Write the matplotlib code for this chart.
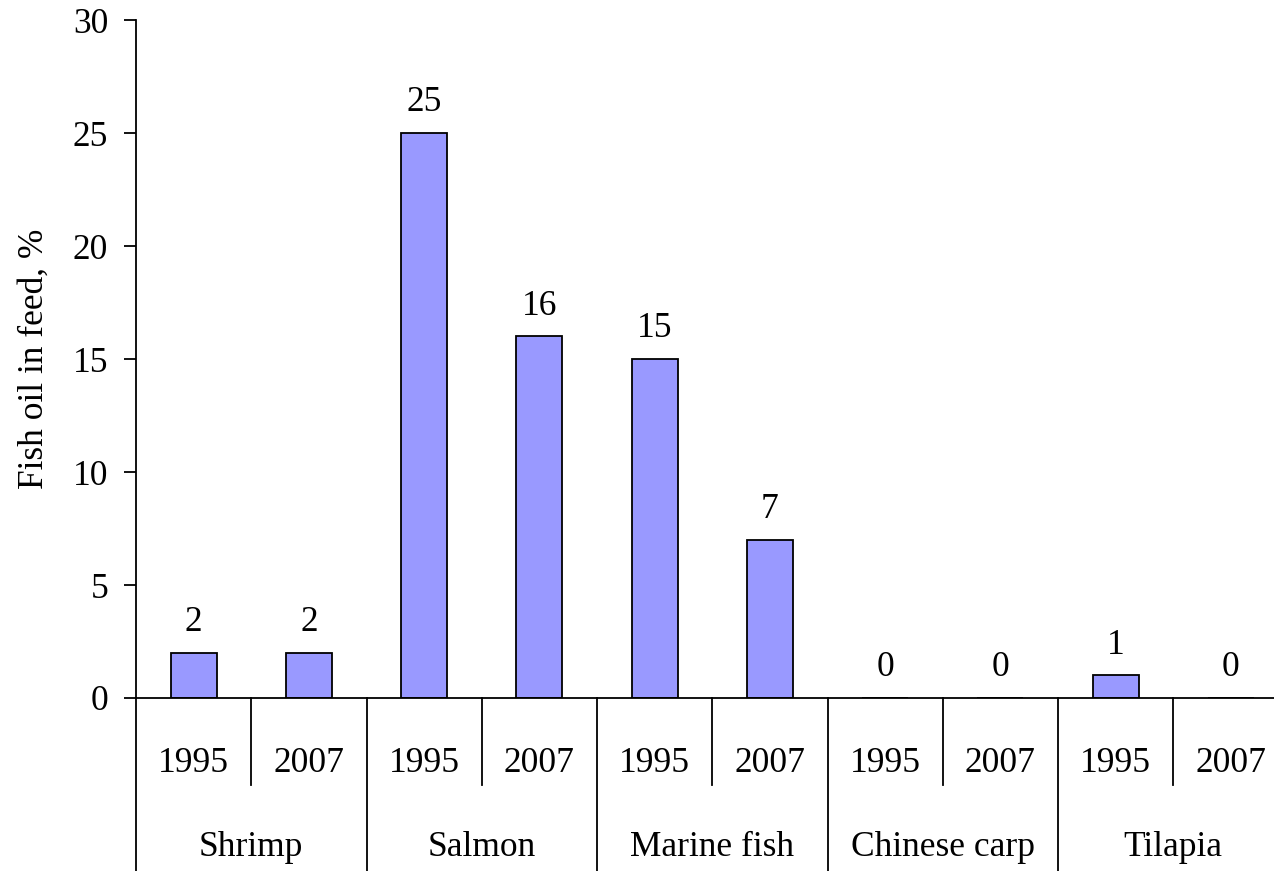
import matplotlib
matplotlib.use("Agg")
import matplotlib.pyplot as plt

species = ["Shrimp", "Salmon", "Marine fish", "Chinese carp", "Tilapia"]
years = ["1995", "2007"]
fish_oil = [2, 2, 25, 16, 15, 7, 0, 0, 1, 0]

plt.rcParams['font.family'] = ['Liberation Serif', 'DejaVu Serif']

fig = plt.figure(figsize=(12.74, 8.71), dpi=100)
ax = fig.add_axes([136 / 1274, 1 - 698 / 871, 1152.5 / 1274, 678 / 871])

x = list(range(len(fish_oil)))
ax.bar(x, fish_oil, width=0.4, color='#9999ff', edgecolor='black', linewidth=1.3)

# value labels above bars
for xi, v in zip(x, fish_oil):
    ax.annotate(str(v), (xi, v), xytext=(0, 10), textcoords='offset points',
                ha='center', va='bottom', fontsize=25.5)

ax.set_xlim(-0.5, len(fish_oil) - 0.5)
ax.set_ylim(0, 30)
ax.set_yticks([0, 5, 10, 15, 20, 25, 30])
ax.tick_params(axis='y', direction='out', length=9, width=1.3, pad=11, labelsize=25.5)
ax.set_xticks([])
ax.spines['top'].set_visible(False)
ax.spines['right'].set_visible(False)
ax.spines['left'].set_linewidth(1.3)
ax.spines['bottom'].set_linewidth(1.3)
ax.set_ylabel("Fish oil in feed, %", fontsize=25.5, labelpad=16)

# two-level category axis below
for i in range(len(fish_oil)):
    ax.text(i, -2.9, years[i % 2], ha='center', va='center', fontsize=25.5, clip_on=False)
for g, name in enumerate(species):
    ax.text(2 * g + 0.5, -6.6, name, ha='center', va='center', fontsize=25.5, clip_on=False)
    ax.plot([2 * g + 0.5, 2 * g + 0.5], [0, -3.85], color='black', lw=1.3, clip_on=False)
for b in range(len(species) + 1):
    ax.plot([2 * b - 0.5, 2 * b - 0.5], [0, -8.5], color='black', lw=1.3, clip_on=False)

fig.savefig("out.png", dpi=100)
